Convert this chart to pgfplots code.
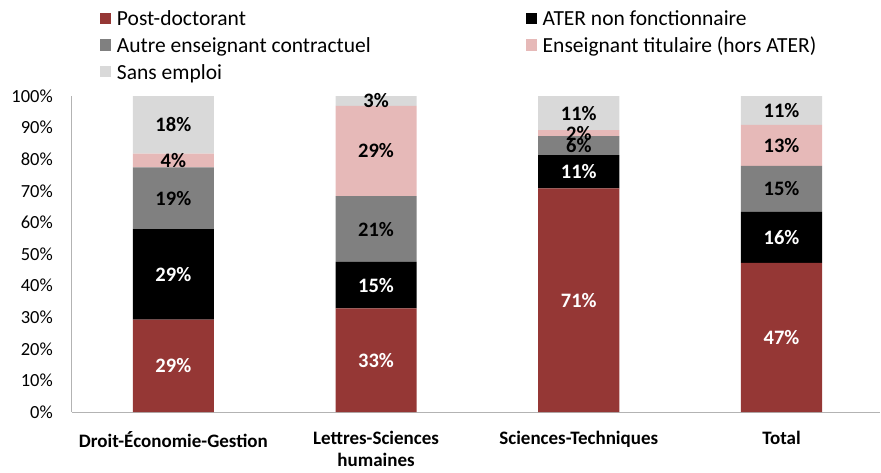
\documentclass[border=0pt]{standalone}
\usepackage{fontspec}
\setmainfont{Carlito}
\usepackage{pgfplots}
\usepackage{pgfplotstable}
\pgfplotsset{compat=1.18}
\definecolor{cPost}{HTML}{953735}
\definecolor{cAter}{HTML}{000000}
\definecolor{cAutre}{HTML}{808080}
\definecolor{cEns}{HTML}{E6B9B8}
\definecolor{cSans}{HTML}{D9D9D9}
\definecolor{axgray}{HTML}{B3B3B3}

\pgfplotstableread{
x v lab
0 29.2 29
1 32.8 33
2 70.8 71
3 47.2 47
}\postdoc
\pgfplotstableread{
x v lab
0 28.7 29
1 14.7 15
2 10.5 11
3 16.1 16
}\ater
\pgfplotstableread{
x v lab
0 19.5 19
1 20.8 21
2 6.0 6
3 14.6 15
}\autre
\pgfplotstableread{
x v lab
0 4.4 4
1 28.6 29
2 1.9 2
3 13.0 13
}\ens
\pgfplotstableread{
x v lab
0 18.2 18
1 3.1 3
2 10.8 11
3 9.1 11
}\sans

\begin{document}
\begin{tikzpicture}
\useasboundingbox (-72pt,-60pt) rectangle (809pt,412pt);
\begin{axis}[
  scale only axis,
  width=808pt, height=316pt,
  ybar stacked, bar width=0.4,
  xmin=-0.5, xmax=3.486,
  ymin=0, ymax=100,
  xtick={0,1,2,3},
  xticklabels={Droit-Économie-Gestion,{Lettres-Sciences\\humaines},Sciences-Techniques,Total},
  xticklabel style={align=center, font=\bfseries\fontsize{19}{22}\selectfont, inner sep=0pt, anchor=north, yshift=-19pt},
  ytick={0,10,...,100},
  yticklabel={\pgfmathparse{int(round(\tick))}\pgfmathresult\%},
  yticklabel style={font=\fontsize{18.5}{22}\selectfont, inner sep=0pt, anchor=east, xshift=-19pt},
  major tick length=0pt,
  axis x line*=bottom, axis y line*=left,
  axis line style={-, draw=axgray, line width=1pt},
  clip=false,
  point meta=explicit symbolic,
  nodes near coords={\pgfplotspointmeta\%},
  every node near coord/.append style={anchor=center, font=\bfseries\fontsize{20.5}{24}\selectfont, inner sep=0pt},
  legend columns=2,
  legend cell align=left,
  legend style={at={(0,1)}, anchor=north west, xshift=28pt, yshift=85pt, draw=none, fill=none, inner sep=0pt, outer sep=0pt,
    font=\fontsize{21.5}{26}\selectfont,
    nodes={inner sep=0pt, text height=14pt, text depth=0pt},
    row sep=13pt,
    /tikz/every odd column/.append style={column sep=6pt},
    /tikz/every even column/.append style={column sep=155pt}},
  legend image code/.code={\fill[#1] (0pt,-5.5pt) rectangle (11pt,5.5pt);},
]
\addplot[fill=cPost, draw=none, every node near coord/.append style={text=white}] table[x=x, y=v, meta=lab] {\postdoc};
\addlegendentry{Post-doctorant}
\addplot[fill=cAter, draw=none, every node near coord/.append style={text=white}] table[x=x, y=v, meta=lab] {\ater};
\addlegendentry{ATER non fonctionnaire}
\addplot[fill=cAutre, draw=none, every node near coord/.append style={text=black}] table[x=x, y=v, meta=lab] {\autre};
\addlegendentry{Autre enseignant contractuel}
\addplot[fill=cEns, draw=none, every node near coord/.append style={text=black}] table[x=x, y=v, meta=lab] {\ens};
\addlegendentry{Enseignant titulaire (hors ATER)}
\addplot[fill=cSans, draw=none, every node near coord/.append style={text=black}] table[x=x, y=v, meta=lab] {\sans};
\addlegendentry{Sans emploi}
\end{axis}
\end{tikzpicture}
\end{document}
